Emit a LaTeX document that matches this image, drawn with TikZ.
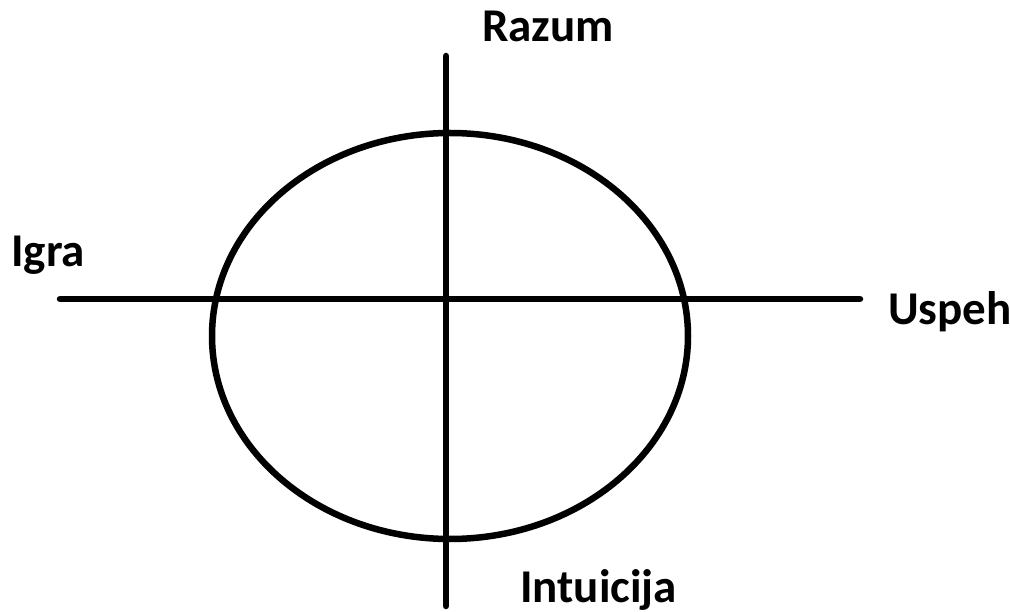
\documentclass[tikz,border=0pt]{standalone}
\usepackage{fontspec}
\setmainfont{Carlito}
\begin{document}
\begin{tikzpicture}[x=1pt,y=-1pt,
  axis/.style={line width=6.5pt,line cap=round},
  lbl/.style={font=\bfseries\fontsize{47}{52}\selectfont,inner sep=0pt,anchor=base west}]
\useasboundingbox (0,0) rectangle (1010,612);
\coordinate (vt) at (446,56);
\coordinate (vb) at (446,606);
\coordinate (hl) at (60,299);
\coordinate (hr) at (860,299);
\coordinate (c) at (450,336);
\draw[axis] (vt) -- (vb);
\draw[axis] (hl) -- (hr);
\draw[line width=6.5pt] (c) ellipse [x radius=238pt, y radius=203pt];
\node[lbl] (razum) at (482,42) {Razum};
\node[lbl] (igra) at (11,267) {Igra};
\node[lbl] (uspeh) at (888,325) {Uspeh};
\node[lbl] (intu) at (520,602) {Intuicija};
\end{tikzpicture}
\end{document}
